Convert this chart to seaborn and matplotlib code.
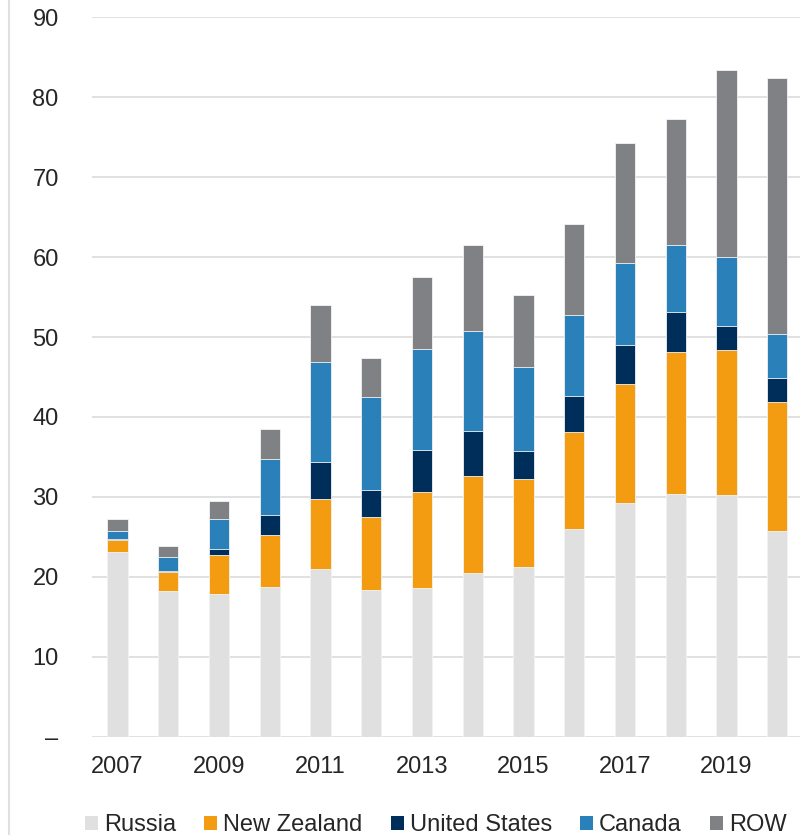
import numpy as np
import pandas as pd
import matplotlib
matplotlib.use("Agg")
import matplotlib.pyplot as plt
from matplotlib.patches import Patch
from matplotlib.lines import Line2D
import seaborn as sns

years = [str(y) for y in range(2007, 2021)]
russia = [23.1, 18.3, 17.9, 18.8, 21.0, 18.4, 18.6, 20.5, 21.2, 26.0, 29.3, 30.4, 30.2, 25.7]
new_zealand = [1.5, 2.3, 4.9, 6.5, 8.8, 9.1, 12.0, 12.1, 11.0, 12.1, 14.8, 17.7, 18.2, 16.2]
united_states = [0.2, 0.2, 0.7, 2.5, 4.6, 3.4, 5.3, 5.6, 3.6, 4.5, 4.9, 5.0, 3.0, 3.0]
canada = [1.0, 1.7, 3.8, 6.9, 12.5, 11.6, 12.6, 12.5, 10.4, 10.2, 10.3, 8.4, 8.6, 5.45]
row = [1.5, 1.4, 2.2, 3.8, 7.1, 4.9, 9.05, 10.8, 9.0, 11.3, 14.9, 15.7, 23.4, 32.05]

series = ["Russia", "New Zealand", "United States", "Canada", "ROW"]
colors = ["#e0e0e0", "#f39c12", "#002e5b", "#2a80b9", "#808184"]
y_labels = ["–", "10", "20", "30", "40", "50", "60", "70", "80", "90"]

sns.set_style("white")
plt.rcParams["font.family"] = ["Liberation Sans", "DejaVu Sans"]

df = pd.DataFrame({"year": years, "Russia": russia, "New Zealand": new_zealand,
                   "United States": united_states, "Canada": canada, "ROW": row})
cum = df[series].cumsum(axis=1)
cum["year"] = df["year"]

fig = plt.figure(figsize=(8.1, 8.35), dpi=100)
ax = fig.add_axes([0.1136, 0.1174, 0.8741, 0.8622])

# stack by drawing cumulative totals from the top segment down
for name, color in reversed(list(zip(series, colors))):
    sns.barplot(data=cum, x="year", y=name, color=color, width=0.4,
                edgecolor="#f4f4f4", linewidth=0.6, saturation=1, ax=ax, zorder=3)

ax.set_ylim(0, 90)
ax.set_xlim(-0.5, 13.45)
ax.set_yticks(range(0, 91, 10))
ax.set_yticklabels(y_labels, fontsize=17)
ax.set_xticks(range(0, 14, 2))
ax.set_xticklabels(years[::2], fontsize=17)
ax.tick_params(axis="y", length=0, pad=24)
ax.tick_params(axis="x", length=0, pad=14)
ax.set_xlabel("")
ax.set_ylabel("")
ax.grid(axis="y", color="#d9d9d9", linewidth=1.1, zorder=0)
ax.set_axisbelow(True)
for s in ax.spines.values():
    s.set_visible(False)

handles = [Patch(facecolor=c, edgecolor="none", label=n) for n, c in zip(series, colors)]
fig.legend(handles=handles, loc="center", bbox_to_anchor=(0.538, 0.012), ncol=5,
           frameon=False, fontsize=17, handlelength=0.55, handleheight=0.55,
           handletextpad=0.25, columnspacing=1.2, borderpad=0)

fig.add_artist(Line2D([0.011, 0.011], [0, 1], color="#e0e0e0", linewidth=1.5,
                      transform=fig.transFigure))

fig.savefig("out.png", dpi=100)
